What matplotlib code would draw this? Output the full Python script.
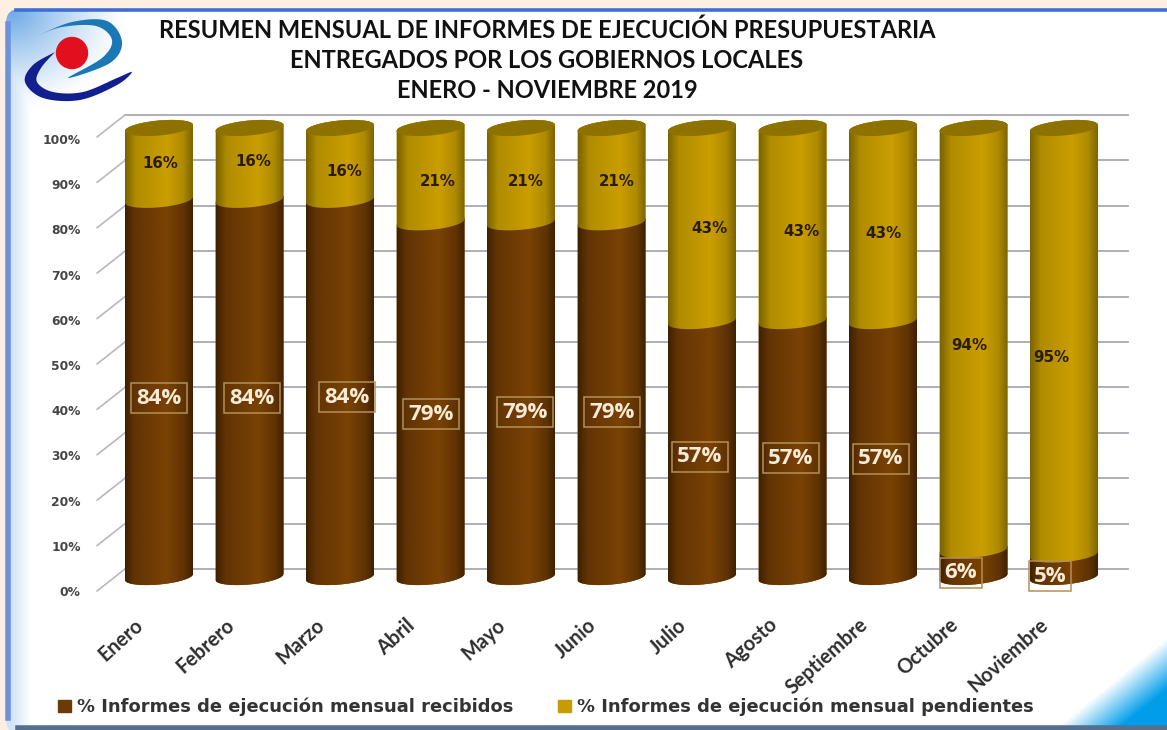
import numpy as np
import matplotlib
matplotlib.use("Agg")
import matplotlib.pyplot as plt
from matplotlib.colors import LinearSegmentedColormap
from matplotlib.patches import FancyBboxPatch, Patch
from matplotlib.transforms import ScaledTranslation

months = ["Enero", "Febrero", "Marzo", "Abril", "Mayo", "Junio", "Julio",
          "Agosto", "Septiembre", "Octubre", "Noviembre"]
recibidos = [84, 84, 84, 79, 79, 79, 57, 57, 57, 6, 5]
pendientes = [16, 16, 16, 21, 21, 21, 43, 43, 43, 94, 95]
y_ticks = [0, 10, 20, 30, 40, 50, 60, 70, 80, 90, 100]
title_lines = ["RESUMEN MENSUAL DE INFORMES DE EJECUCIÓN PRESUPUESTARIA",
               "ENTREGADOS POR LOS GOBIERNOS LOCALES",
               "ENERO - NOVIEMBRE 2019"]
legend_labels = ["% Informes de ejecución mensual recibidos",
                 "% Informes de ejecución mensual pendientes"]

# label placement in the picture (pixels)
recibidos_xy = [(159, 398), (252, 398), (347, 397), (431, 414), (525, 412), (612, 412),
                (700, 457), (791, 458), (881, 459), (961, 573), (1050, 576)]
pendientes_xy = [(160, 163), (253, 161), (344, 172), (438, 181), (526, 181), (617, 181),
                 (709, 228), (801, 232), (883, 233), (969, 346), (1051, 357)]

W, H = 1167, 730
BROWN = "#6B3A06"
GOLD = "#C79C00"
brown_map = LinearSegmentedColormap.from_list(
    "b", [(0, "#3E2000"), (0.14, "#623404"), (0.62, "#7A4204"), (0.88, "#5E3203"), (1, "#3E2000")])
gold_map = LinearSegmentedColormap.from_list(
    "g", [(0, "#7A6200"), (0.16, "#B08C00"), (0.62, "#CB9E00"), (0.86, "#AE8A00"), (1, "#7C6400")])

# logo outlines (pixels)
swoosh_top = [(37, 36), (72, 22), (107, 21), (122, 42), (110, 63), (68, 78),
              (102, 58), (112, 40), (96, 26), (62, 27), (37, 36)]
swoosh_low = [(55, 52), (33, 65), (25, 82), (43, 98), (80, 100), (117, 85), (132, 72),
              (117, 78), (83, 92), (53, 92), (37, 82), (41, 68), (55, 52)]


def rect(left, top, right, bottom):
    return [left / W, 1 - bottom / H, (right - left) / W, (bottom - top) / H]


def smooth(points, n=12):
    # Catmull-Rom through the traced points
    p = np.array(points, dtype=float)
    p = np.vstack([p[0], p, p[-1]])
    out = []
    for i in range(1, len(p) - 2):
        s = np.linspace(0, 1, n, endpoint=False)[:, None]
        out.append(0.5 * (2 * p[i] + (p[i + 1] - p[i - 1]) * s
                          + (2 * p[i - 1] - 5 * p[i] + 4 * p[i + 1] - p[i + 2]) * s ** 2
                          + (3 * p[i] - p[i - 1] - 3 * p[i + 1] + p[i + 2]) * s ** 3))
    return np.vstack(out)


def ring(xc, yc, rx, ry, skew, t):
    return xc + rx * np.cos(t), yc + ry * np.sin(t) + skew * np.cos(t)


fig = plt.figure(figsize=(W / 100, H / 100), dpi=100, facecolor="#FFEEE2")

# background panel
bg = fig.add_axes([0, 0, 1, 1], zorder=0)
bg.set_xlim(0, W)
bg.set_ylim(H, 0)
bg.axis("off")
xx, yy = np.meshgrid(np.arange(W), np.arange(H))
img = np.ones((H, W, 3))
blue_tl = np.array([0.42, 0.66, 0.90])
k1 = np.clip(1 - np.hypot((xx - 10) / 115, (yy - 10) / 100), 0, 1) ** 1.2
k2 = np.clip(1 - (xx - 12) / 18, 0, 1) * 0.3
k = np.maximum(k1, k2)[..., None]
img = img * (1 - k) + blue_tl * k
blue_br = np.array([0.0, 0.62, 0.92])
k3 = np.clip(((xx - 1062) / 105 + (yy - 640) / 85 - 1.0) / 0.6 + 0.05, 0, 1)[..., None]
img = img * (1 - k3) + blue_br * k3
panel_img = bg.imshow(img, extent=[0, W, H, 0], aspect="auto", zorder=1)
panel = FancyBboxPatch((6, 9), 1175, 725, boxstyle="round,pad=0,rounding_size=14",
                       fc="none", ec="none", zorder=1)
bg.add_patch(panel)
panel_img.set_clip_path(panel)
bg.plot([16, 1167], [9.5, 9.5], color="#3C6FD6", lw=2.6, zorder=2)
bg.plot([7.5, 7.5], [24, 718], color="#6D92DE", lw=4, zorder=2)
bg.plot([18, 1167], [727.5, 727.5], color="#55708F", lw=4, zorder=2)

# logo
top_xy = smooth(swoosh_top)
low_xy = smooth(swoosh_low)
bg.fill(top_xy[:, 0], top_xy[:, 1], color="#1C78B4", lw=0, zorder=3)
bg.fill(low_xy[:, 0], low_xy[:, 1], color="#12208F", lw=0, zorder=3)
bg.add_patch(plt.Circle((72, 53), 15.5, color="#E2101E", zorder=3))

for line, y in zip(title_lines, [30, 60, 91]):
    bg.text(547, y, line, ha="center", va="center", fontsize=17,
            fontweight="bold", family="Lato", color="#111111", zorder=3)

# back wall with the gridlines
wall = fig.add_axes(rect(125, 115, 1128, 569), zorder=1)
wall.set_facecolor("none")
wall.set_xlim(0, 1)
wall.set_ylim(0, 100)
wall.set_xticks([])
wall.set_yticks(y_ticks)
wall.set_yticklabels([])
wall.tick_params(length=0)
wall.grid(axis="y", color="#A8A8B4", lw=1.3)
for sp in wall.spines.values():
    sp.set_visible(False)
for t in wall.get_ygridlines():
    t.set_clip_on(False)
for v in y_ticks:
    wall.annotate("", xy=(0, v), xycoords=("axes fraction", "data"),
                  xytext=(-28, -22), textcoords="offset pixels",
                  arrowprops=dict(arrowstyle="-", color="#B8B8C0", lw=1.2,
                                  shrinkA=0, shrinkB=0), annotation_clip=False)

# percent labels sit on their own scale, lower than the wall
lab = fig.add_axes(rect(82, 139, 1128, 591), zorder=1)
lab.set_facecolor("none")
lab.set_xticks([])
lab.set_ylim(0, 100)
lab.set_yticks(y_ticks)
lab.set_yticklabels([f"{v}%" for v in y_ticks], fontsize=8.8, fontweight="bold", color="#444444")
lab.tick_params(length=0, pad=1)
for sp in lab.spines.values():
    sp.set_visible(False)

# cylinders
ax = fig.add_axes(rect(97, 128, 1128, 577), zorder=2)
ax.set_facecolor("none")
for sp in ax.spines.values():
    sp.set_visible(False)
PX_X, PX_Y = 90.5, 4.49
half = 34 / PX_X
ry = 7.5 / PX_Y
skew = 3 / PX_Y
grad = np.linspace(0, 1, 256)[None, :]
t_low = np.linspace(np.pi, 2 * np.pi, 50)
t_up = np.linspace(0, np.pi, 50)

for i in range(len(months)):
    bottom = 0
    for value, cmap in ((recibidos[i], brown_map), (pendientes[i], gold_map)):
        top = bottom + value
        x1, y1 = ring(i, bottom, half, ry, skew, t_low)
        x2, y2 = ring(i, top, half, ry, skew, t_up)
        poly = ax.fill(np.r_[x1, x2], np.r_[y1, y2], color=cmap(0.5), lw=0, clip_on=False, zorder=3)[0]
        body = ax.imshow(grad, cmap=cmap, aspect="auto", zorder=3.1,
                         extent=[i - half, i + half, bottom - ry - skew, top + ry + skew])
        body.set_clip_box(fig.bbox)
        body.set_clip_path(poly)
        bottom = top
    cx, cy = ring(i, bottom, half, ry, skew, np.linspace(0, 2 * np.pi, 80))
    ax.fill(cx, cy, color="#8E7200", lw=0, clip_on=False, zorder=3.2)

ax.set_xlim(-62 / PX_X, 969 / PX_X)
ax.set_ylim(0, 100)
ax.set_yticks([])
ax.set_xticks(range(len(months)))
ax.set_xticklabels(months, rotation=42, ha="right", va="top", rotation_mode="anchor",
                   fontsize=14.4, fontweight="bold", family="Lato", color="#2E2E2E")
ax.tick_params(axis="x", length=0, pad=0)
shift = ScaledTranslation(-25 / 100, -38 / 100, fig.dpi_scale_trans)
for label in ax.get_xticklabels():
    label.set_transform(label.get_transform() + shift)

for value, (x, y) in zip(recibidos, recibidos_xy):
    fig.text(x / W, 1 - y / H, f"{value}%", ha="center", va="center", zorder=5,
             fontsize=16, fontweight="bold", family="Open Sans", color="#FBEBD6",
             bbox=dict(fc="none", ec="#B58F58", lw=1.1, boxstyle="square,pad=0.22"))
for value, (x, y) in zip(pendientes, pendientes_xy):
    fig.text(x / W, 1 - y / H, f"{value}%", ha="center", va="center", zorder=5,
             fontsize=10.8, fontweight="bold", family="DejaVu Sans", color="#2A1C00")

handles = [Patch(color=BROWN), Patch(color=GOLD)]
fig.legend(handles, legend_labels, ncol=2, frameon=False, loc="center left",
           bbox_to_anchor=(42 / W, 1 - 707 / H),
           prop={"family": "DejaVu Sans", "weight": "bold", "size": 12.9},
           labelcolor="#333333", handlelength=0.7, handleheight=0.7, handletextpad=0.35,
           columnspacing=2.5)

fig.savefig("out.png", dpi=100, facecolor=fig.get_facecolor())
